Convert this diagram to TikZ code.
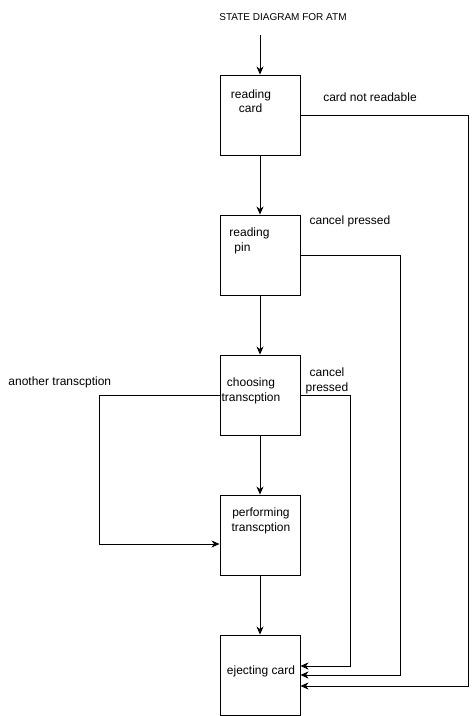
\documentclass[tikz,border=0pt]{standalone}
\usepackage{fontspec}
\setmainfont{Liberation Sans}
\usetikzlibrary{arrows.meta}
\usetikzlibrary{positioning}
\tikzset{arr/.style = {-{Stealth[length = 8pt, width = 7pt, inset = 2.5pt]}}}
\tikzset{state/.style = {draw, minimum width = 80, minimum height = 80, inner sep = 0}}
\tikzset{txt/.style = {font = \fontsize{12}{14.5}\selectfont, align = center, inner sep = 0}}

\begin{document}
\begin{tikzpicture}[x = 1pt, y = -1pt, line width = 0.9pt]
      \useasboundingbox (0, 0) rectangle (472, 716);

      \node [font = \fontsize{10}{12}\selectfont, inner sep = 0] (title) at (283, 17) {STATE DIAGRAM FOR ATM};
      \coordinate (start) at (260, 35);

      % states
      \node [state] (readcard) at (260, 115) {};
      \node [state] (readpin) at (260, 255) {};
      \node [state] (choose) at (260, 395) {};
      \node [state] (perform) at (260, 535) {};
      \node [state] (eject) at (260, 675) {};

      \node [txt, align = left] (readcardtext) at (251, 101) {reading\\\hspace*{8pt}card};
      \node [txt, align = left] (readpintext) at (249.5, 241) {reading\\\hspace*{5pt}pin};
      \node [txt] (choosetext) at (251, 391) {choosing\\transcption};
      \node [txt] (performtext) at (261, 521) {performing\\transcption};
      \node [txt] (ejecttext) at (261, 671) {ejecting card};

      % transitions
      \draw [arr] (start) -- (readcard.north);
      \draw [arr] (readcard.south) -- (readpin.north);
      \draw [arr] (readpin.south) -- (choose.north);
      \draw [arr] (choose.south) -- (perform.north);
      \draw [arr] (perform.south) -- (eject.north);

      \draw [arr] (readcard.east) -- ++(168, 0) |- ([yshift = -11pt] eject.east);
      \draw [arr] (readpin.east) -- ++(100, 0) |- (eject.east);
      \draw [arr] (choose.east) -- ++(50, 0) |- ([yshift = 9pt] eject.east);
      \draw [arr] (choose.west) -- ++(-120, 0) |- ([yshift = -9pt] perform.west);

      \node [txt] (notreadable) at (370, 97) {card not readable};
      \node [txt] (cancelpin) at (350, 221) {cancel pressed};
      \node [txt] (cancelchoose) at (327, 381) {cancel\\pressed};
      \node [txt, anchor = west] (another) at (8, 382) {another transcption};
\end{tikzpicture}
\end{document}
